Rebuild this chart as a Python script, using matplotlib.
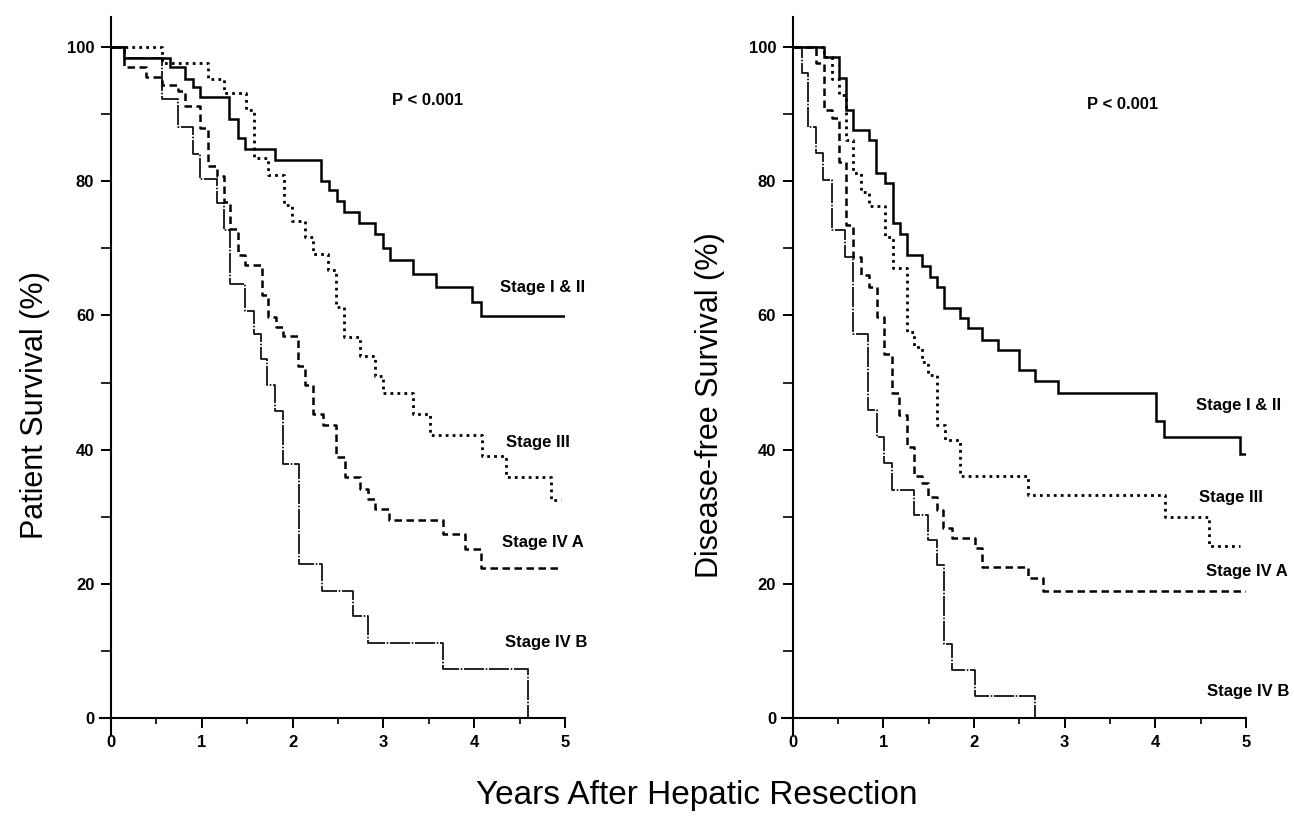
import matplotlib
matplotlib.use('Agg')
import matplotlib.pyplot as plt
from matplotlib.ticker import MultipleLocator

plt.rcParams['font.family'] = ['Liberation Sans', 'DejaVu Sans']
plt.rcParams['font.weight'] = 'bold'

stage_names = ['Stage I & II', 'Stage III', 'Stage IV A', 'Stage IV B']

# Patient survival (left panel): step times in years, survival in %
os_t_12 = [0, 0.14, 0.65, 0.815, 0.90, 0.98, 1.30, 1.395, 1.48, 1.81, 2.31, 2.40,
           2.49, 2.57, 2.73, 2.91, 3.00, 3.07, 3.33, 3.58, 3.98, 4.07, 5.0]
os_s_12 = [100, 98.3, 97.0, 95.3, 94.0, 92.5, 89.3, 86.4, 84.8, 83.2, 80.1, 78.7,
           77.1, 75.4, 73.8, 72.2, 70.0, 68.2, 66.2, 64.2, 62.0, 59.9, 59.9]

os_t_3 = [0, 0.56, 1.07, 1.245, 1.49, 1.575, 1.73, 1.90, 1.99, 2.14, 2.23, 2.39,
          2.48, 2.57, 2.74, 2.91, 2.99, 3.33, 3.51, 4.09, 4.35, 4.85, 4.95]
os_s_3 = [100, 97.6, 95.3, 93.1, 90.6, 83.4, 81.0, 76.4, 74.1, 71.7, 69.2, 66.7,
          61.2, 56.8, 54.0, 51.0, 48.4, 45.3, 42.2, 39.1, 35.9, 32.5, 32.5]

os_t_4a = [0, 0.143, 0.39, 0.56, 0.74, 0.815, 0.98, 1.07, 1.165, 1.24, 1.31, 1.40,
           1.48, 1.66, 1.73, 1.82, 1.89, 2.06, 2.14, 2.23, 2.33, 2.48, 2.58, 2.74,
           2.83, 2.91, 3.06, 3.66, 3.90, 4.07, 4.96]
os_s_4a = [100, 97.0, 95.6, 94.4, 93.4, 91.2, 88.0, 82.3, 80.8, 76.9, 72.9, 69.0,
           67.5, 63.0, 59.7, 58.3, 56.9, 52.5, 49.6, 45.3, 43.6, 38.9, 35.9, 34.1,
           32.6, 31.1, 29.5, 27.4, 25.2, 22.4, 22.4]

os_t_4b = [0, 0.143, 0.56, 0.74, 0.90, 0.98, 1.165, 1.24, 1.31, 1.48, 1.57, 1.65,
           1.72, 1.81, 1.89, 2.07, 2.32, 2.66, 2.83, 3.66, 4.59]
os_s_4b = [100, 98.3, 92.3, 88.1, 84.1, 80.4, 76.7, 72.7, 64.7, 60.7, 57.2, 53.5,
           49.6, 45.8, 37.9, 22.9, 19.0, 15.2, 11.2, 7.3, 0]

# Disease-free survival (right panel)
dfs_t_12 = [0, 0.345, 0.51, 0.59, 0.666, 0.84, 0.92, 1.015, 1.10, 1.18, 1.255, 1.43,
            1.51, 1.59, 1.667, 1.84, 1.93, 2.09, 2.26, 2.50, 2.67, 2.93, 4.01, 4.10,
            4.93, 5.0]
dfs_s_12 = [100, 98.5, 95.4, 90.6, 87.6, 86.1, 81.2, 79.8, 73.7, 72.2, 69.0, 67.3,
            65.8, 64.3, 61.1, 59.6, 58.1, 56.4, 54.8, 51.9, 50.2, 48.5, 44.3, 41.9,
            39.3, 39.3]

dfs_t_3 = [0, 0.345, 0.427, 0.51, 0.59, 0.666, 0.757, 0.84, 1.015, 1.10, 1.255,
           1.34, 1.42, 1.49, 1.586, 1.68, 1.84, 2.59, 4.11, 4.595, 4.93]
dfs_s_3 = [100, 98.5, 95.3, 92.9, 86.1, 81.2, 78.4, 76.3, 71.7, 67.0, 57.6,
           55.3, 53.1, 51.1, 43.7, 41.4, 36.1, 33.3, 29.9, 25.6, 25.6]

dfs_t_4a = [0, 0.254, 0.345, 0.427, 0.51, 0.59, 0.666, 0.757, 0.84, 0.924, 1.004,
            1.09, 1.17, 1.255, 1.34, 1.42, 1.49, 1.586, 1.66, 1.76, 2.01, 2.09,
            2.59, 2.76, 5.0]
dfs_s_4a = [100, 97.6, 90.6, 89.4, 82.9, 73.5, 68.7, 66.0, 64.3, 59.8, 54.3,
            48.4, 45.2, 40.4, 36.0, 35.0, 33.0, 31.0, 28.3, 26.8, 25.3, 22.5,
            20.8, 19.0, 19.0]

dfs_t_4b = [0, 0.096, 0.17, 0.254, 0.335, 0.427, 0.58, 0.66, 0.83, 0.924, 1.004,
            1.09, 1.34, 1.49, 1.586, 1.67, 1.76, 2.01, 2.67]
dfs_s_4b = [100, 96.2, 88.1, 84.2, 80.2, 72.7, 68.7, 57.3, 45.9, 41.9, 38.0,
            34.0, 30.3, 26.5, 22.8, 11.1, 7.2, 3.3, 0]

styles = [
    dict(linestyle='-', lw=1.8),
    dict(linestyle=(0, (1.0, 1.5)), lw=2.0),
    dict(linestyle=(0, (3.0, 1.8)), lw=1.8),
    dict(linestyle=(0, (12, 1, 1, 1)), lw=1.2),
]


def draw_panel(ax, curves, label_xy, p_xy, ylabel, ylabel_x, ylabel_y):
    for (t, s), st in zip(curves, styles):
        ax.step(t, s, where='post', color='black', solid_joinstyle='miter', **st)

    ax.set_xlim(-0.12, 5.0)
    ax.set_ylim(-2.5, 104.5)
    ax.patch.set_visible(False)
    for side in ['top', 'right']:
        ax.spines[side].set_visible(False)
    for side in ['left', 'bottom']:
        ax.spines[side].set_position(('data', 0))
        ax.spines[side].set_linewidth(1.5)

    ax.xaxis.set_major_locator(MultipleLocator(1))
    ax.xaxis.set_minor_locator(MultipleLocator(0.5))
    ax.yaxis.set_major_locator(MultipleLocator(20))
    ax.yaxis.set_minor_locator(MultipleLocator(10))
    ax.tick_params(which='major', direction='out', length=7, width=1.4,
                   labelsize=12, pad=5)
    ax.tick_params(axis='y', which='minor', direction='out', length=7, width=1.2)
    ax.tick_params(axis='x', which='minor', direction='out', length=4, width=1.2)

    for name, (x, y) in zip(stage_names, label_xy):
        ax.text(x, y, name, fontsize=12, fontweight='bold', va='center', ha='left')
    ax.text(p_xy[0], p_xy[1], 'P < 0.001', fontsize=12, va='center', ha='left')

    fig.text(ylabel_x, ylabel_y, ylabel, rotation=90, fontsize=22,
             fontweight='normal', ha='center', va='center')


fig = plt.figure(figsize=(12.94, 8.21), dpi=100)
ax1 = fig.add_axes([0.0773, 0.105, 0.3594, 0.8745])
ax2 = fig.add_axes([0.6043, 0.105, 0.3586, 0.8745])

draw_panel(ax1,
           [(os_t_12, os_s_12), (os_t_3, os_s_3), (os_t_4a, os_s_4a), (os_t_4b, os_s_4b)],
           [(4.28, 64.2), (4.35, 41.0), (4.30, 26.2), (4.34, 11.3)],
           (3.09, 92.1), 'Patient Survival (%)', 35 / 1294, 1 - 405 / 821)

draw_panel(ax2,
           [(dfs_t_12, dfs_s_12), (dfs_t_3, dfs_s_3), (dfs_t_4a, dfs_s_4a), (dfs_t_4b, dfs_s_4b)],
           [(4.45, 46.6), (4.48, 32.9), (4.56, 21.8), (4.57, 3.9)],
           (3.25, 91.4), 'Disease-free Survival (%)', 710 / 1294, 1 - 405 / 821)

fig.text(697 / 1294, 1 - 795 / 821, 'Years After Hepatic Resection', fontsize=24,
         fontweight='normal', ha='center', va='center')

fig.savefig('out.png', dpi=100, facecolor='white')
